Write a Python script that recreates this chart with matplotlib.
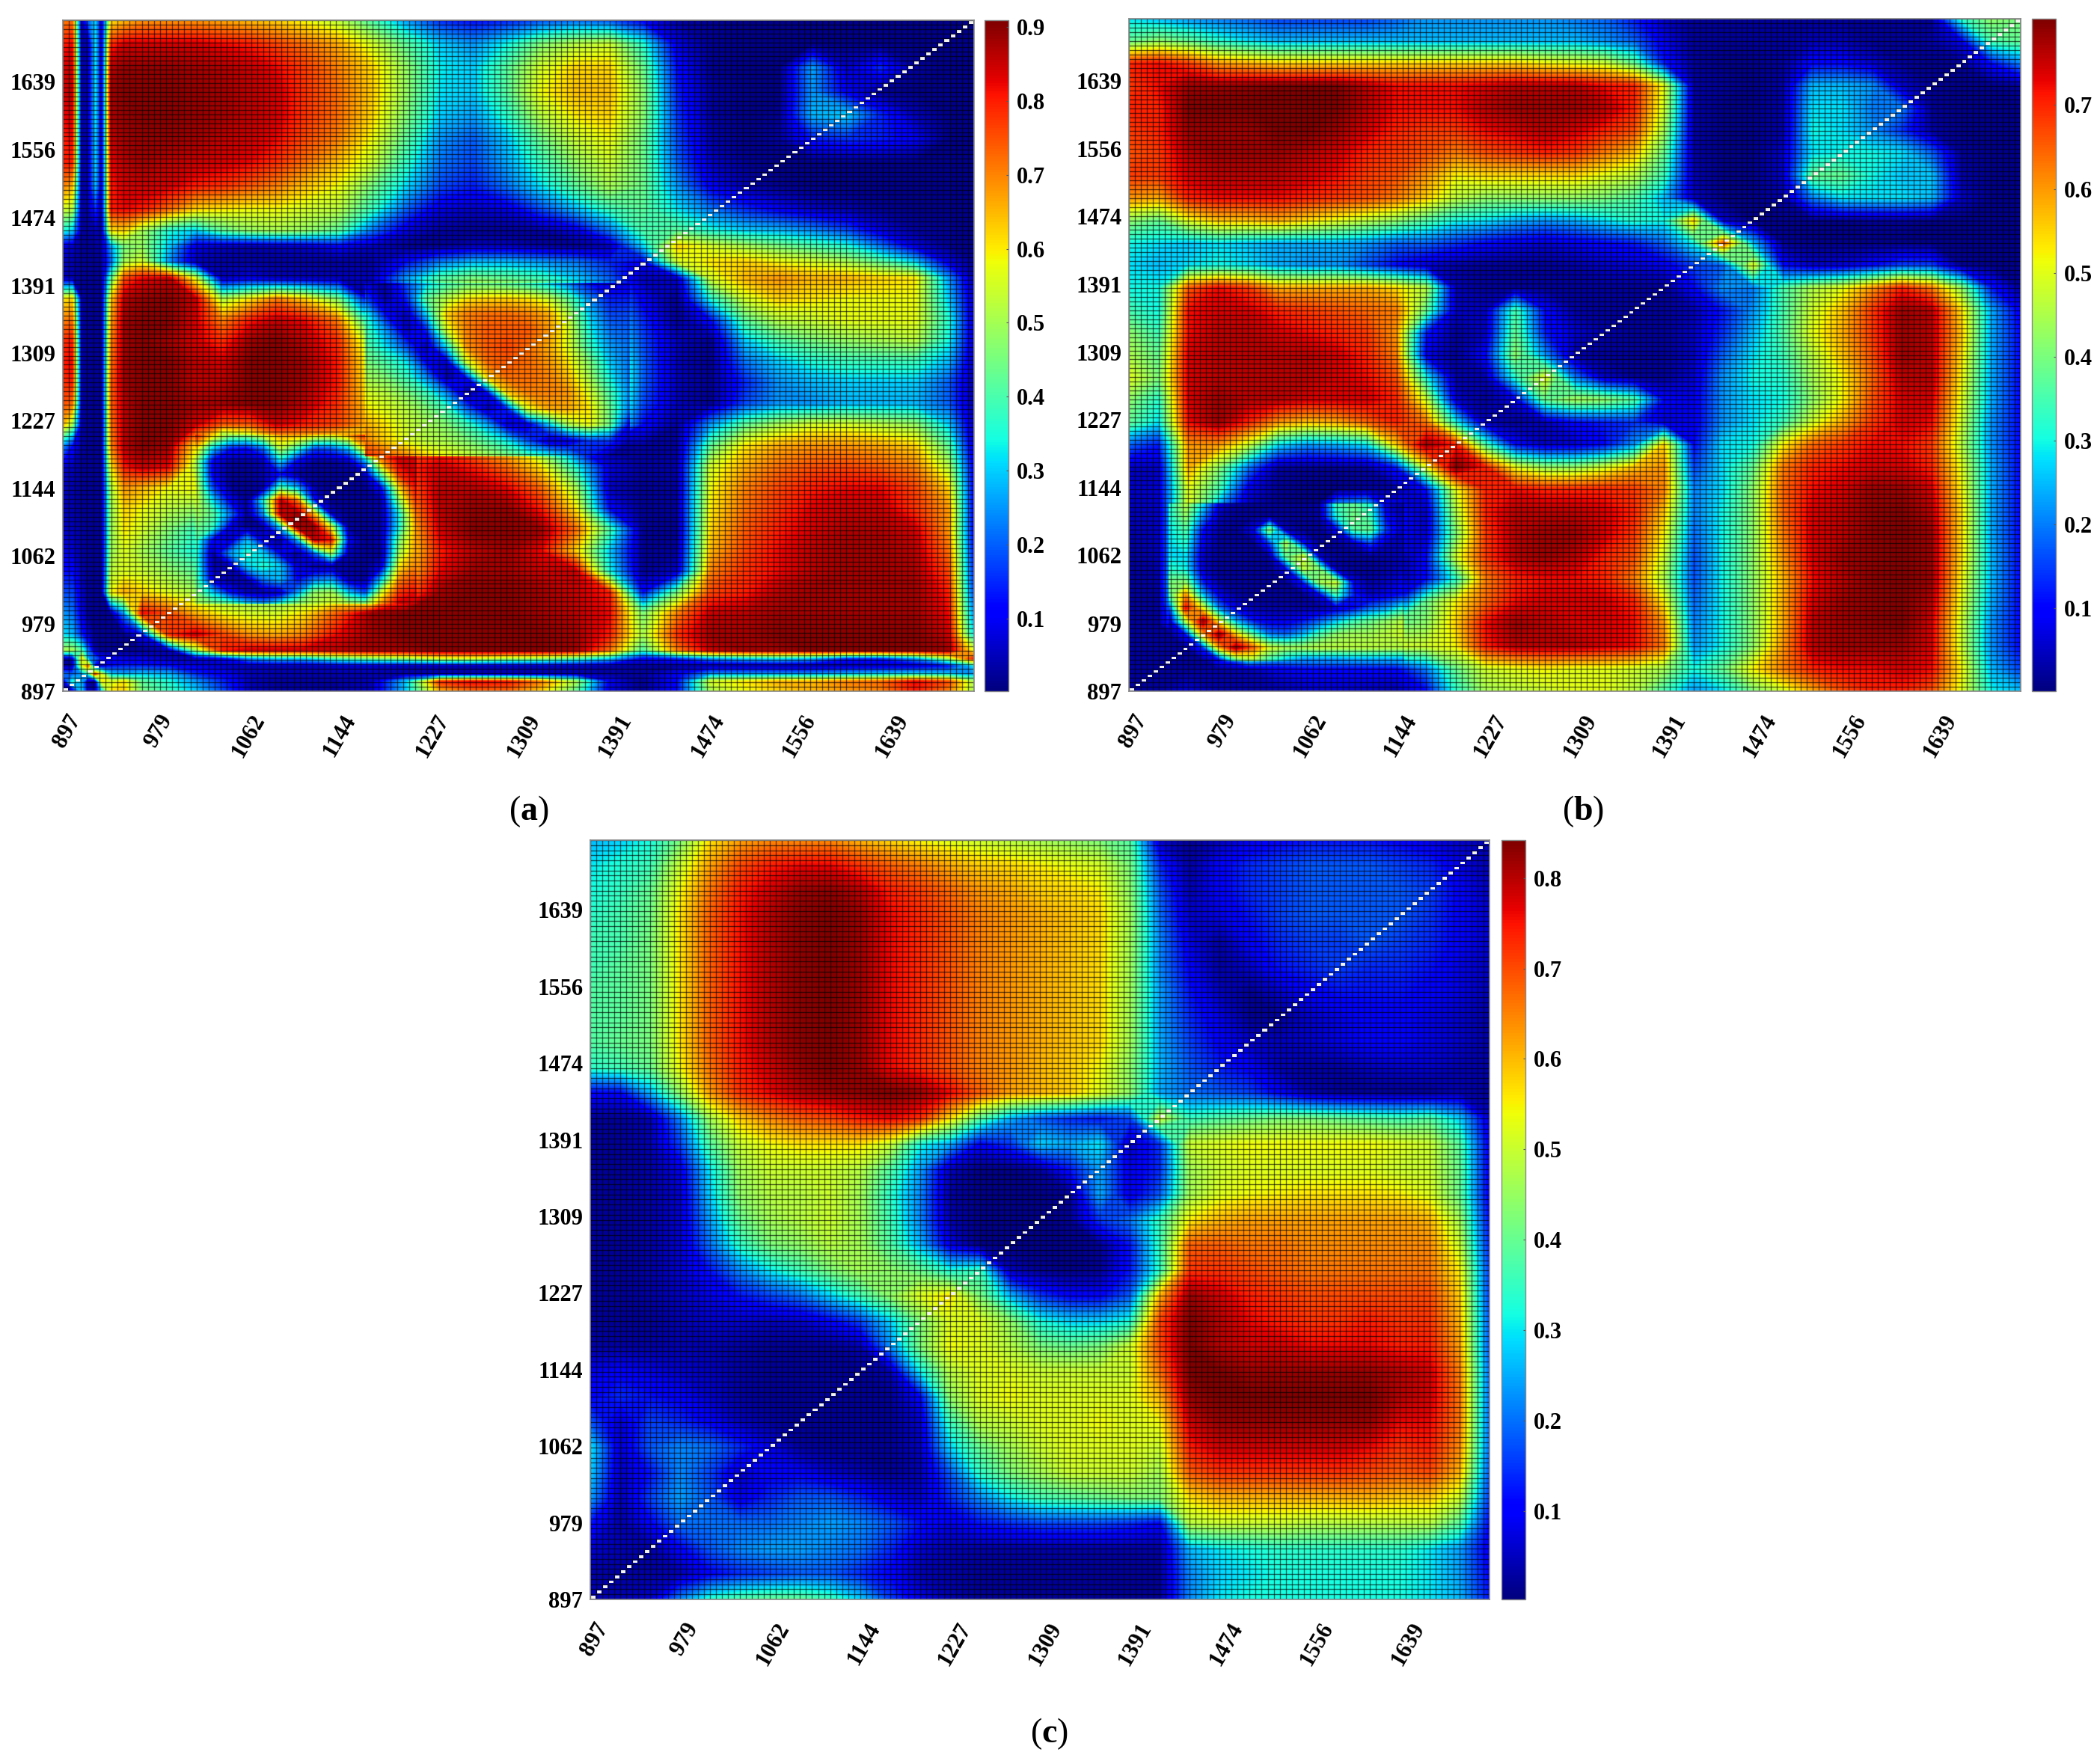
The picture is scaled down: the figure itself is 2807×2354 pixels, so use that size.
import matplotlib
matplotlib.use("Agg")
import matplotlib.pyplot as plt
import numpy as np
from matplotlib.cm import ScalarMappable
from matplotlib.colors import Normalize
from matplotlib.transforms import ScaledTranslation

plt.rcParams['font.family'] = ['Liberation Serif', 'DejaVu Serif']
plt.rcParams['font.weight'] = 'bold'
plt.rcParams['mathtext.fontset'] = 'custom'
plt.rcParams['mathtext.bf'] = 'Liberation Serif:bold'
plt.rcParams['mathtext.rm'] = 'Liberation Serif'

tick_values = [897, 979, 1062, 1144, 1227, 1309, 1391, 1474, 1556, 1639]

# sample positions (wavenumber), denser where panel (a) has thin lines
a_x = [897, 905.5, 914, 920, 926, 932, 940, 952, 968, 992, 1016, 1040, 1065, 1089, 1113, 1144, 1174, 1205,
       1235, 1265, 1296, 1326, 1357, 1387, 1417, 1448, 1478, 1509, 1539, 1569, 1600, 1630, 1661, 1691, 1714]
a_y = [1714, 1685, 1656, 1627, 1599, 1570, 1541, 1512, 1484, 1458, 1439, 1420, 1400, 1375, 1349, 1324, 1298, 1273,
       1247, 1222, 1196, 1170, 1145, 1119, 1094, 1068, 1043, 1017, 992, 966, 947, 937, 928, 918, 909, 897]
b_x = list(np.linspace(897, 1714, 31))
b_y = list(np.linspace(1714, 897, 31))
c_x = list(np.linspace(897, 1714, 31))
c_y = list(np.linspace(1714, 897, 31))

# values in hundredths, top row first
a_values = [
    [70,72,3,20,30,5,60, 64,68,68,68,66,64,62,58,52, 40,25,15,12,14,18,20,18,10, 3,2,1,1,1,1,1,1,1,1],
    [80,82,3,5,32,5,78, 84,84,84,84,82,80,76,72,66, 55,42,30,25,34,46,52,54,36, 8,2,1,1,1,1,1,1,1,1],
    [84,85,3,5,32,5,86, 89,89,89,88,87,85,82,77,70, 62,48,33,30,42,55,62,62,44, 12,2,1,1,26,6,15,3,1,1],
    [84,86,3,5,32,5,88, 90,90,90,89,88,86,84,78,72, 63,48,32,30,42,58,64,64,47, 14,3,1,1,25,10,2,1,1,1],
    [82,84,3,5,32,5,87, 89,90,90,89,88,86,84,78,72, 62,46,30,26,37,52,60,62,47, 16,3,1,2,28,30,15,5,1,1],
    [80,82,3,5,30,5,85, 88,89,89,88,86,85,82,76,70, 58,42,25,20,30,44,54,58,44, 18,4,1,3,14,16,14,10,1,1],
    [80,80,3,5,30,5,82, 86,88,86,85,84,82,78,72,64, 54,37,22,18,27,38,48,54,44, 20,6,2,1,1,1,1,1,1,1],
    [70,65,3,5,28,5,80, 84,85,84,80,78,74,70,64,58, 45,31,18,14,22,32,42,50,44, 25,10,4,2,1,1,1,1,1,1],
    [55,52,3,4,15,4,80, 82,80,72,62,60,58,58,55,52, 38,20,8,6,8,18,28,38,42, 32,22,15,10,6,4,2,1,1,1],
    [35,30,3,3,5,4,60, 62,50,35,30,42,48,50,48,42, 22,8,3,2,2,3,8,22,40, 42,35,30,28,24,18,8,3,2,1],
    [8,6,2,2,3,4,25, 45,48,30,8,5,4,5,6,10, 5,2,2,5,5,3,2,5,30, 62,55,50,45,40,35,22,8,2,1],
    [5,4,2,2,2,3,20, 50,55,25,5,3,3,3,3,3, 3,12,22,28,28,25,22,15,10, 55,60,62,58,55,50,42,30,8,2],
    [5,4,2,2,2,3,40, 75,82,85,55,5,8,5,5,5, 5,25,40,45,42,38,30,20,5, 6,55,65,68,65,65,62,60,25,3],
    [60,62,3,2,2,3,60, 86,89,90,85,50,60,70,62,45, 5,25,55,65,65,62,45,28,10, 2,35,55,62,60,58,58,58,30,5],
    [70,72,3,2,2,3,65, 88,90,90,84,70,80,85,82,70, 30,4,42,70,74,74,58,34,15, 2,12,42,52,54,57,57,57,36,5],
    [78,80,3,2,2,3,68, 88,90,88,84,78,88,90,86,78, 48,10,15,68,76,72,62,40,18, 5,2,30,40,45,48,50,52,34,5],
    [80,82,3,2,2,3,70, 88,90,90,86,84,90,90,88,80, 54,32,3,48,72,74,70,50,20, 5,2,22,30,35,38,38,38,28,4],
    [78,80,3,2,2,3,72, 88,90,90,86,86,90,90,88,80, 56,50,6,6,52,74,70,54,20, 5,2,15,25,28,30,30,30,20,3],
    [75,72,3,2,2,3,72, 86,90,90,88,88,90,90,86,78, 60,52,45,30,8,62,68,52,18, 5,2,18,25,25,28,28,28,20,3],
    [65,50,3,2,2,3,70, 86,90,90,84,74,74,84,80,76, 64,55,50,42,30,5,25,45,12, 3,25,42,50,55,55,52,48,30,4],
    [25,12,3,2,2,3,68, 86,90,88,60,20,35,55,55,52, 70,72,78,70,62,42,12,4,3, 3,42,60,66,68,68,66,62,42,5],
    [6,5,2,2,2,3,58, 80,85,82,50,5,4,15,8,8, 48,78,84,80,72,60,35,8,3, 4,55,66,72,75,76,74,70,52,8],
    [5,4,2,2,2,3,50, 68,65,58,58,25,4,3,3,3, 12,72,86,86,82,72,50,6,2, 3,58,70,76,80,82,82,76,62,8],
    [5,4,2,2,2,3,48, 62,58,52,48,32,10,85,55,3, 4,65,86,89,89,80,60,12,2, 3,60,72,78,83,85,85,78,68,8],
    [6,5,3,2,2,3,48, 60,55,46,38,25,6,15,88,55, 3,60,84,90,90,88,72,40,2, 2,62,74,80,84,87,87,84,68,8],
    [8,7,3,2,2,3,48, 56,50,42,34,8,35,30,12,3, 3,58,80,86,88,82,62,30,2, 3,65,76,82,86,88,88,86,72,10],
    [12,12,4,2,2,3,52, 56,54,48,42,5,8,5,35,4, 4,62,82,88,88,85,85,35,2, 6,70,78,82,86,88,88,87,76,12],
    [18,18,6,2,2,3,58, 66,62,56,50,46,44,42,46,46, 25,72,88,90,90,88,85,80,12, 45,76,80,86,88,88,88,88,80,15],
    [25,22,8,2,2,2,3, 25,82,75,65,58,55,55,60,74, 88,90,90,90,90,88,86,82,45, 70,85,86,88,88,88,88,88,82,22],
    [32,28,14,6,2,2,2, 2,10,78,85,76,68,66,70,82, 88,90,90,90,90,90,88,80,50, 78,88,88,90,90,90,90,90,85,30],
    [50,50,40,20,4,2,2, 2,2,5,48,80,84,84,84,86, 88,88,90,90,90,90,88,72,40, 70,85,88,88,90,90,90,90,88,55],
    [3,5,60,25,20,12,10, 8,8,5,5,10,25,30,30,40, 45,48,55,55,50,48,40,30,10, 15,25,30,32,28,15,15,25,50,80],
    [3,3,55,70,10,5,12, 14,14,12,8,6,5,5,5,6, 6,5,5,5,5,5,5,4,3, 3,3,3,3,3,4,5,6,12,32],
    [22,20,25,35,75,55,30, 27,30,28,15,10,5,4,4,4, 4,4,4,4,4,4,4,4,3, 10,25,25,25,25,28,30,32,30,25],
    [5,35,28,2,2,60,55, 60,42,35,25,15,5,3,3,3, 5,30,78,82,80,70,50,10,2, 12,55,60,65,65,70,72,82,75,50],
    [2,5,30,5,5,30,60, 62,45,38,30,18,5,3,3,3, 5,30,65,72,72,62,42,8,2, 12,50,58,62,65,68,70,80,70,50],
]

# finer reading of the flower shape in (a)
a_flower_x = [1016, 1031, 1047, 1062, 1077, 1092, 1107, 1123, 1138, 1153, 1168, 1183, 1199, 1214]
a_flower_y = [1209, 1193, 1177, 1161, 1145, 1129, 1113, 1097, 1081, 1065, 1049, 1033, 1017, 1004]
a_flower_values = [
    [80,62,48,48,56,66,66,60,58,66,78,82,80,78],
    [62,30,14,12,22,52,38,18,20,30,62,80,84,84],
    [50,10,3,3,5,30,10,3,3,5,25,68,84,84],
    [52,10,2,2,4,12,4,2,2,2,5,42,78,84],
    [55,18,3,2,4,40,28,4,2,2,2,12,62,82],
    [55,32,10,3,35,85,72,12,2,2,2,4,48,78],
    [50,42,22,3,25,85,88,62,6,2,2,4,35,72],
    [45,38,8,2,4,30,88,88,55,3,2,4,35,68],
    [40,10,6,28,8,3,25,85,80,10,2,5,45,68],
    [38,4,25,36,30,10,3,20,50,5,2,3,50,68],
    [40,4,5,30,36,30,8,3,4,3,2,8,60,70],
    [42,8,3,5,22,28,12,22,25,5,3,30,70,76],
    [46,30,12,5,3,6,25,48,50,30,18,55,78,82],
    [50,45,40,30,25,35,45,52,55,50,45,68,84,84],
]

# finer reading of the dark curved band in (a)
a_band_x = [1168, 1186, 1205, 1223, 1241, 1259, 1278, 1296, 1314, 1332, 1350, 1369, 1387, 1405]
a_band_y = [1394, 1375, 1356, 1337, 1317, 1298, 1279, 1260, 1241, 1222, 1202, 1183]
a_band_values = [
    [8,3,18,30,38,42,42,40,36,30,22,12,8,8],
    [18,3,14,42,52,60,62,62,60,54,42,24,14,14],
    [35,12,5,30,62,70,72,72,70,66,52,30,18,18],
    [40,25,5,14,55,70,74,74,74,68,56,34,22,20],
    [42,32,18,4,32,68,74,76,72,66,56,38,26,22],
    [46,40,32,10,6,54,72,74,72,68,60,46,30,22],
    [50,46,38,24,3,12,62,72,72,70,64,50,34,22],
    [56,52,46,38,24,3,10,62,70,70,68,56,40,24],
    [60,56,52,46,38,20,4,15,56,66,66,60,44,22],
    [66,60,54,50,46,38,26,6,8,28,50,58,44,10],
    [70,62,56,52,50,46,40,32,18,5,6,16,16,4],
    [78,74,70,62,58,54,50,46,40,36,28,14,4,2],
]

b_values = [
    [28,25,22,20,18,15,15,15,15,18, 22,22,22,22,22,20,18,12,5,2, 2,2,2,2,2,2,2,2,32,42,40],
    [38,42,38,32,28,25,25,25,25,25, 25,25,25,25,25,25,22,18,8,2, 2,2,2,4,4,2,2,3,8,35,38],
    [70,72,68,60,58,55,55,55,55,55, 55,55,55,55,52,50,48,38,12,2, 1,1,2,10,10,6,2,1,2,10,20],
    [68,72,78,78,79,80,80,80,76,72, 72,72,74,76,76,76,72,70,50,3, 2,1,3,25,25,22,6,2,1,1,2],
    [70,70,80,80,80,80,80,80,76,72, 72,72,76,78,78,78,76,70,48,3, 1,1,3,28,28,20,20,2,1,1,1],
    [68,70,78,78,78,80,80,78,74,70, 68,68,72,74,76,74,70,66,44,3, 1,1,3,30,28,22,14,3,1,1,1],
    [66,68,76,78,78,78,76,74,70,68, 66,62,66,68,70,68,62,56,38,3, 1,1,5,28,30,30,28,18,2,1,1],
    [68,68,74,76,76,76,74,72,68,66, 60,52,54,54,54,54,50,46,34,4, 1,1,5,38,38,30,26,26,3,1,1],
    [60,58,70,72,72,72,70,68,66,62, 55,46,42,42,42,42,40,36,25,5, 1,1,3,20,28,28,28,25,5,1,1],
    [42,38,50,56,56,58,54,50,46,42, 36,30,28,24,22,24,28,32,30,55, 6,1,1,1,1,2,2,1,1,1,1],
    [30,28,26,28,26,24,24,24,22,18, 18,14,10,8,6,8,10,12,18,30, 65,25,2,1,1,1,1,1,1,1,1],
    [28,25,28,30,28,24,22,22,16,10, 6,3,2,2,2,3,5,6,8,15, 18,50,10,5,6,10,15,15,2,1,1],
    [30,30,65,72,68,58,58,58,58,54, 45,4,2,2,2,2,2,2,2,10, 22,20,35,45,50,60,70,62,42,12,2],
    [35,30,72,74,74,70,68,66,64,62, 38,5,5,35,10,3,2,2,2,4, 12,22,35,48,56,68,78,76,54,24,8],
    [42,34,72,76,76,74,72,70,68,60, 12,2,5,38,12,6,3,2,2,5, 14,25,36,50,58,68,78,76,56,24,10],
    [45,38,74,76,76,76,76,74,70,62, 8,2,10,42,22,3,2,2,2,5, 18,28,34,46,56,66,78,76,54,24,10],
    [50,40,74,76,76,76,76,74,72,66, 30,3,4,32,50,20,5,2,2,6, 22,30,32,44,52,64,76,76,52,24,10],
    [42,32,74,78,76,76,74,74,74,70, 48,6,2,8,38,44,42,36,10,8, 22,28,30,42,52,66,74,74,50,24,10],
    [38,28,72,78,70,60,56,58,64,70, 62,30,4,2,4,10,12,14,6,8, 22,28,34,48,58,68,74,72,48,22,10],
    [18,12,60,60,48,28,22,24,28,55, 78,70,35,10,5,6,10,22,55,10, 28,30,52,64,68,72,72,68,46,22,10],
    [5,5,58,42,20,3,2,2,3,12, 50,80,70,50,42,42,48,56,60,15, 28,38,62,70,72,74,74,70,50,24,10],
    [5,6,50,35,8,2,1,1,2,3, 10,50,70,72,70,70,70,68,62,20, 28,42,64,72,74,78,78,74,52,24,10],
    [4,5,50,20,4,1,1,32,38,10, 5,45,70,76,76,76,74,70,56,20, 30,42,64,74,76,79,80,76,54,24,10],
    [3,5,50,10,3,35,4,14,30,10, 6,40,68,76,78,78,74,68,52,18, 30,42,62,74,76,79,80,78,54,24,10],
    [2,4,50,12,2,8,52,3,2,2, 10,48,68,76,78,76,70,66,48,16, 30,42,60,74,78,79,80,78,54,25,10],
    [2,3,58,25,3,2,8,40,4,3, 10,32,62,70,72,72,70,62,45,16, 30,42,57,72,76,79,80,78,52,25,10],
    [2,2,55,62,35,6,2,2,3,12, 38,52,64,72,74,74,74,70,52,18, 30,42,58,74,78,79,80,76,50,24,10],
    [2,2,30,78,45,25,10,12,22,38, 42,55,72,78,76,74,74,72,60,20, 30,42,58,76,78,79,80,74,48,22,10],
    [2,2,2,25,68,42,42,44,46,48, 48,52,70,76,76,76,74,72,62,22, 30,42,60,76,78,78,78,74,48,22,10],
    [2,2,2,3,4,8,10,10,10,10, 20,38,48,50,52,50,50,48,44,30, 38,52,62,70,72,72,74,72,52,25,15],
    [2,2,6,3,3,3,5,5,4,3, 10,32,44,46,48,50,50,46,35,22, 28,40,48,58,66,70,70,66,50,30,25],
]

# finer reading of the lower left ring and streak in (b)
b_ring_x = [934, 949, 965, 980, 995, 1011, 1026, 1041, 1057, 1072, 1087, 1103, 1118, 1133, 1149]
b_ring_y = [1125, 1109, 1093, 1077, 1061, 1045, 1029, 1014, 998, 982, 966, 950, 934]
b_ring_values = [
    [30,46,28,8,3,2,2,2,2,3,34,38,30,6,3],
    [30,42,20,4,2,2,2,2,2,3,30,40,34,10,4],
    [28,36,10,3,2,8,42,5,2,2,8,36,38,14,5],
    [28,32,8,2,2,2,15,45,10,2,2,5,15,5,4],
    [28,28,5,2,2,2,3,38,48,5,2,2,2,3,4],
    [32,30,6,2,2,2,2,8,46,40,4,2,2,3,5],
    [40,42,12,3,2,2,2,2,12,44,48,8,3,5,8],
    [35,60,25,8,3,2,2,2,2,8,34,12,5,8,12],
    [15,72,50,20,8,4,3,3,3,3,6,10,18,22,32],
    [5,45,78,50,25,12,8,8,12,18,26,34,38,42,46],
    [2,10,58,78,55,36,20,18,25,35,42,44,44,46,48],
    [2,2,14,58,78,64,48,44,44,46,46,46,46,46,46],
    [2,2,2,6,32,42,32,24,18,18,18,20,20,20,20],
]

c_values = [
    [26,28,32,42,56,62,64,64,64,60, 57,54,52,50,48,46,44,42,38,6, 2,5,8,10,12,12,12,10,8,6,4],
    [30,33,36,50,62,70,74,76,76,72, 68,65,61,58,57,55,53,51,42,14, 3,10,14,16,18,18,18,16,14,8,4],
    [32,35,40,54,66,74,78,82,83,80, 74,71,67,63,61,58,57,55,44,18, 4,10,14,16,18,18,18,18,16,10,5],
    [34,37,41,56,68,75,80,83,84,82, 76,73,69,65,63,61,59,57,46,20, 6,8,12,16,18,18,18,18,15,10,6],
    [36,37,42,56,68,75,80,83,84,82, 76,73,69,65,63,61,59,57,46,22, 8,3,10,14,16,16,18,16,14,10,6],
    [36,39,42,56,68,75,80,83,84,82, 76,73,69,65,63,61,59,57,46,22, 10,3,6,12,14,16,14,14,12,8,5],
    [38,39,42,56,68,75,80,83,84,82, 76,73,69,65,63,61,59,57,46,24, 12,5,2,6,10,12,12,12,10,8,4],
    [38,39,42,56,68,75,80,83,84,82, 76,73,69,65,63,61,59,57,46,24, 14,8,2,2,6,8,10,10,8,6,3],
    [38,40,42,56,68,75,80,83,84,82, 76,73,69,65,63,61,59,57,46,25, 16,10,6,5,6,8,10,10,8,6,3],
    [34,36,40,54,66,74,78,82,84,82, 76,73,69,65,63,60,58,54,44,26, 18,13,10,4,3,3,5,6,6,4,3],
    [10,10,25,44,62,72,76,80,82,83, 84,82,76,68,62,60,58,52,44,25, 20,18,16,10,4,2,2,2,2,4,2],
    [2,2,4,22,46,58,64,68,70,74, 76,72,56,38,25,18,14,12,16,50, 35,38,40,42,42,40,38,36,38,28,6],
    [2,2,4,16,38,50,54,56,56,56, 50,32,25,10,15,28,25,30,5,15, 50,52,54,54,54,54,54,52,50,38,8],
    [2,2,3,8,30,46,50,50,50,48, 38,24,5,1,1,3,12,24,8,14, 46,50,52,52,52,52,52,50,50,40,8],
    [2,2,3,6,28,44,48,48,50,46, 34,22,3,1,1,1,2,25,8,18, 46,52,54,55,56,56,56,55,52,40,8],
    [2,2,3,6,24,40,46,48,50,46, 36,22,4,1,1,1,2,15,20,35, 55,60,62,62,62,62,62,62,60,46,10],
    [2,2,3,6,20,34,42,44,48,46, 38,26,8,1,1,1,1,2,12,35, 68,68,66,66,64,64,64,64,64,50,12],
    [2,2,3,6,12,22,30,36,42,46, 44,40,32,35,5,2,1,2,12,34, 72,72,70,68,66,66,66,66,66,55,14],
    [2,2,3,5,8,12,16,20,28,36, 44,52,56,42,26,15,10,10,18,60, 82,78,74,72,70,70,70,70,70,58,14],
    [2,2,2,4,6,6,5,6,10,16, 28,42,52,52,44,32,28,28,32,70, 84,80,76,74,72,72,74,72,72,60,16],
    [3,3,3,4,4,3,2,2,2,4, 22,42,54,52,48,42,40,42,50,70, 84,80,78,78,76,76,76,74,74,62,16],
    [8,10,8,6,5,3,2,2,2,2, 4,30,48,52,52,50,50,50,50,66, 84,84,82,82,82,82,82,80,78,65,18],
    [10,14,12,10,6,3,2,2,2,2, 2,10,44,52,54,52,52,52,52,60, 82,84,84,84,84,84,84,80,78,66,18],
    [18,6,16,14,10,5,3,2,2,2, 2,6,35,48,50,52,52,54,52,54, 78,82,82,82,82,82,82,76,76,66,18],
    [30,6,18,22,20,14,8,3,2,2, 2,5,28,40,46,50,52,52,52,50, 74,78,78,78,78,78,76,72,74,64,18],
    [28,5,12,22,16,6,10,10,6,4, 2,4,18,34,42,46,50,50,50,46, 68,72,72,72,72,72,70,68,70,60,16],
    [24,4,16,24,18,8,14,18,18,14, 8,6,14,22,30,36,38,40,42,42, 56,60,60,60,60,60,60,58,58,50,14],
    [12,3,10,20,20,20,20,22,24,22, 18,12,8,12,14,16,16,16,14,10, 48,50,50,50,48,48,48,48,48,38,10],
    [6,4,3,10,18,22,24,24,22,20, 14,6,4,3,3,3,3,3,3,3, 26,30,32,34,34,34,34,34,30,24,8],
    [3,3,3,4,10,14,16,18,18,14, 10,4,3,2,2,2,2,2,2,2, 22,28,30,32,32,32,32,32,30,24,10],
    [4,4,6,22,34,38,40,40,36,28, 16,8,4,2,2,2,2,2,2,2, 22,30,32,32,32,32,32,32,30,26,12],
]

W, H = 2807, 2354
LO, HI = 897, 1714
n_cells = 150


def box(x0, y0, x1, y1):
    return [x0 / W, 1 - y1 / H, (x1 - x0) / W, (y1 - y0) / H]


def panel(frame, cframe, layers, vmin, vmax, cticks, caption, cap_xy):
    ax = fig.add_axes(box(*frame))
    levels = np.linspace(vmin, vmax, 256)
    for xs, ys, values in layers:
        ax.contourf(xs, ys, np.array(values) / 100, levels=levels, cmap='jet', extend='both')

    # cell borders and the white diagonal
    edges = np.linspace(LO, HI, n_cells + 1)
    cell = edges[1] - edges[0]
    ax.vlines(edges, LO, HI, colors='k', linewidth=1.0, alpha=0.55)
    ax.hlines(edges, LO, HI, colors='k', linewidth=1.0, alpha=0.6)
    ax.bar(edges[:-1] + cell / 2, cell * 0.55, bottom=edges[:-1] + cell * 0.2, width=cell * 0.75,
           color='#f4f4ee', linewidth=0)

    ax.set_xlim(LO, HI)
    ax.set_ylim(LO, HI)
    ax.set_xticks(tick_values)
    ax.set_yticks(tick_values)
    ax.set_yticklabels(tick_values, fontsize=22)
    ax.set_xticklabels(tick_values, fontsize=22, rotation=60, ha='right', va='center', rotation_mode='anchor')
    ax.tick_params(length=0)
    ax.tick_params(axis='x', pad=24)
    ax.tick_params(axis='y', pad=7)
    for lab in ax.get_xticklabels():
        lab.set_transform(lab.get_transform() + ScaledTranslation(0.17, 0, fig.dpi_scale_trans))
    for s in ax.spines.values():
        s.set_color('#888888')
        s.set_linewidth(1.2)

    cax = fig.add_axes(box(*cframe))
    cb = fig.colorbar(ScalarMappable(Normalize(vmin, vmax), 'jet'), cax=cax, ticks=cticks)
    cb.ax.tick_params(labelsize=22, length=2, width=0.8, direction='in', pad=8, color='#555555')
    cb.ax.set_yticklabels(['%.1f' % t for t in cticks])
    cb.outline.set_edgecolor('#888888')
    cb.outline.set_linewidth(1.0)

    fig.text(cap_xy[0] / W, 1 - cap_xy[1] / H, '(' + r'$\mathbf{%s}$' % caption + ')', fontsize=33,
             fontweight='normal', ha='center', va='center')


fig = plt.figure(figsize=(W / 100, H / 100), dpi=100)

panel((84, 27, 1302, 924), (1316, 27, 1348, 924),
      [(a_x, a_y, a_values), (a_flower_x, a_flower_y, a_flower_values), (a_band_x, a_band_y, a_band_values)],
      0.002, 0.909, [0.1, 0.2, 0.3, 0.4, 0.5, 0.6, 0.7, 0.8, 0.9], 'a', (707, 1085))
panel((1509, 25, 2701, 924), (2716, 25, 2748, 924),
      [(b_x, b_y, b_values), (b_ring_x, b_ring_y, b_ring_values)],
      0.001, 0.803, [0.1, 0.2, 0.3, 0.4, 0.5, 0.6, 0.7], 'b', (2116, 1085))
panel((789, 1123, 1991, 2138), (2007, 1123, 2039, 2138),
      [(c_x, c_y, c_values)],
      0.002, 0.842, [0.1, 0.2, 0.3, 0.4, 0.5, 0.6, 0.7, 0.8], 'c', (1402, 2318))

fig.savefig('out.png', dpi=100)
